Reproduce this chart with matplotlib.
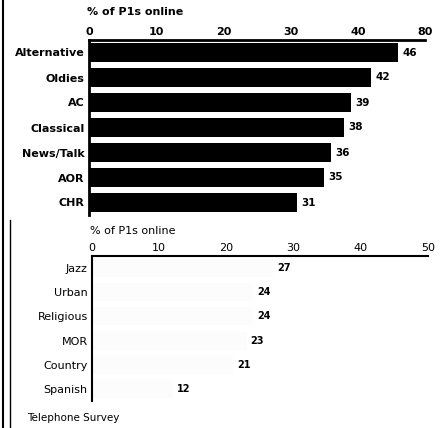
"""
P1 listeners online by format: two stacked horizontal bar panels.
Output: out.png
"""
import matplotlib.pyplot as plt
from matplotlib.lines import Line2D

TOP_FORMATS = ["Alternative", "Oldies", "AC", "Classical", "News/Talk", "AOR", "CHR"]
TOP_VALUES = [46, 42, 39, 38, 36, 35, 31]

BOTTOM_FORMATS = ["Jazz", "Urban", "Religious", "MOR", "Country", "Spanish"]
BOTTOM_VALUES = [27, 24, 24, 23, 21, 12]

TICKS = [0, 10, 20, 30, 40, 50]
TOP_TICK_LABELS = ["0", "10", "20", "30", "40", "80"]
AXIS_TITLE = "% of P1s online"
FOOTNOTE = "Telephone Survey"

W, H = 440, 428


def px_axes(fig, x0, y0, x1, y1):
    # pixel box (top-left origin) -> figure fraction
    return fig.add_axes([x0 / W, 1 - y1 / H, (x1 - x0) / W, (y1 - y0) / H])


def style_panel(ax, labels, tick_labels, bold, label_size, pad):
    weight = "bold" if bold else "normal"
    ax.set_xlim(0, 50)
    ax.set_ylim(len(labels) - 0.5, -0.5)
    ax.xaxis.tick_top()
    ax.set_xticks(TICKS)
    ax.set_xticklabels(tick_labels, fontsize=8, fontweight=weight)
    ax.tick_params(axis="x", length=0, pad=2)
    ax.set_yticks(range(len(labels)))
    ax.set_yticklabels(labels, fontsize=label_size, fontweight=weight)
    ax.tick_params(axis="y", length=0, pad=3)
    for s in ("right", "bottom"):
        ax.spines[s].set_visible(False)
    ax.spines["top"].set_linewidth(2.0 if bold else 1.5)
    ax.spines["left"].set_linewidth(2.0 if bold else 1.5)
    ax.set_title(AXIS_TITLE, loc="left", fontsize=8, fontweight=weight, pad=pad,
                 x=-0.005)


def main():
    fig = plt.figure(figsize=(W / 100, H / 100), dpi=100)

    ax1 = px_axes(fig, 89, 40, 425, 215)
    ax1.barh(range(len(TOP_FORMATS)), TOP_VALUES, height=0.74, color="black")
    for i, v in enumerate(TOP_VALUES):
        ax1.text(v + 0.6, i, str(v), va="center", ha="left",
                 fontsize=7.5, fontweight="bold")
    style_panel(ax1, TOP_FORMATS, TOP_TICK_LABELS, bold=True,
                label_size=8, pad=18)

    ax2 = px_axes(fig, 92, 256, 428, 401)
    ax2.barh(range(len(BOTTOM_FORMATS)), BOTTOM_VALUES, height=0.74,
             color="#fcfcfc")
    for i, v in enumerate(BOTTOM_VALUES):
        ax2.text(v + 0.6, i, str(v), va="center", ha="left",
                 fontsize=7, fontweight="bold")
    style_panel(ax2, BOTTOM_FORMATS, [str(t) for t in TICKS], bold=False,
                label_size=8, pad=16)

    fig.text(27 / W, 1 - 418 / H, FOOTNOTE, fontsize=7.5, va="center", ha="left")

    # page border lines on the left edge
    fig.add_artist(Line2D([3 / W, 3 / W], [0, 1], color="black", lw=1.5))
    fig.add_artist(Line2D([10 / W, 10 / W], [0, 1 - 220 / H], color="black",
                          lw=1.0))

    fig.savefig("out.png", dpi=100)
    plt.close(fig)


if __name__ == "__main__":
    main()
